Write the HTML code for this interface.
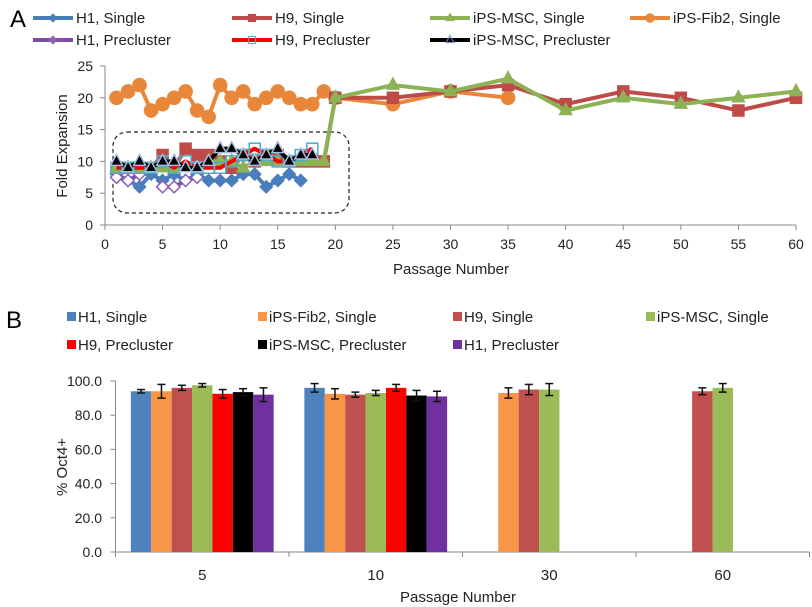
<!DOCTYPE html>
<html><head><meta charset="utf-8">
<style>
body{margin:0;background:#fff;}
svg{display:block;font-family:"Liberation Sans",Arial,sans-serif;}
</style></head>
<body>
<svg id="chart" width="812" height="607" viewBox="0 0 812 607"></svg>
<script>
// ---------- Panel A data ----------
const xA_ticks = [0,5,10,15,20,25,30,35,40,45,50,55,60];
const yA_ticks = [0,5,10,15,20,25];
const seriesNamesA = ["H1, Single","H9, Single","iPS-MSC, Single","iPS-Fib2, Single","H1, Precluster","H9, Precluster","iPS-MSC, Precluster"];
const h1SingleX = [1,2,3,4,5,6,7,8,9,10,11,12,13,14,15,16,17];
const h1SingleY = [8,7,6,8,7,8,7,8,7,7,7,8,8,6,7,8,7];
const h9SingleX = [1,2,3,4,5,6,7,8,9,10,11,12,13,14,15,16,17,18,19,20,25,30,35,40,45,50,55,60];
const h9SingleY = [9,9,9,9,11,9,12,11,11,10,9,11,10,11,11,10,10,10,10,20,20,21,22,19,21,20,18,20];
const mscSingleX = [1,2,3,4,5,6,7,8,9,10,11,12,13,14,15,16,17,18,19,20,25,30,35,40,45,50,55,60];
const mscSingleY = [9,9,9,9,9,9,9,9,10,10,10,9,10,10,10,10,10,10,10,20,22,21,23,18,20,19,20,21];
const fibX = [1,2,3,4,5,6,7,8,9,10,11,12,13,14,15,16,17,18,19,20,25,30,35];
const fibY = [20,21,22,18,19,20,21,18,17,22,20,21,19,20,21,20,19,19,21,20,19,21,20];
const h1PreX = [1,2,3,5,6,7,8];
const h1PreY = [7.5,7,8,6,6,7,7.5];
const h9PreX = [1,2,3,4,5,6,7,8,9,10,11,12,13,14,15,16,17,18];
const h9PreY = [9,9,9,9,10,9,10,9,9,9,10,11,12,11,10,10,11,12];
const mscPreX = [1,2,3,4,5,6,7,8,9,10,11,12,13,14,15,16,17,18];
const mscPreY = [10,9,10,9,10,10,9,9,10,12,12,11,10,11,12,10,11,11];

// ---------- Panel B data ----------
const categoriesB = ["5","10","30","60"];
const yB_ticks = [0,20,40,60,80,100];
const seriesNamesB = ["H1, Single","iPS-Fib2, Single","H9, Single","iPS-MSC, Single","H9, Precluster","iPS-MSC, Precluster","H1, Precluster"];
const h1SingleB  = [94,96,null,null];
const fibSingleB = [94,92.5,93,null];
const h9SingleB  = [96,92,95,94];
const mscSingleB = [97.5,93,95,96];
const h9PreB     = [92.5,96,null,null];
const mscPreB    = [93.5,91.5,null,null];
const h1PreB     = [92,91,null,null];
const h1SingleErr  = [1,2.5,null,null];
const fibSingleErr = [4,3,3,null];
const h9SingleErr  = [1.5,1.5,3,2];
const mscSingleErr = [1,1.5,3.5,2.5];
const h9PreErr     = [2.5,2,null,null];
const mscPreErr    = [2,3,null,null];
const h1PreErr     = [4,3,null,null];

const svg = document.getElementById('chart');
const NS = "http://www.w3.org/2000/svg";
function el(tag, attrs, parent, text){
  const e = document.createElementNS(NS, tag);
  for (const k in attrs) e.setAttribute(k, attrs[k]);
  if (text !== undefined) e.textContent = text;
  (parent||svg).appendChild(e);
  return e;
}

// ---------- Panel A axes ----------
const xA = v => 105 + v * (691/60);
const yA = v => 225 - v * (159/25);
const gA = el('g', {});


const pl = el('text',{x:10,y:27,'font-size':24,fill:'#000'},gA,'A');
 

el('line',{x1:105,y1:yA(0),x2:105,y2:yA(25),stroke:'#888','stroke-width':1},gA);
el('line',{x1:105,y1:yA(0),x2:xA(60),y2:yA(0),stroke:'#888','stroke-width':1},gA);
yA_ticks.forEach(t=>{
  el('line',{x1:100,y1:yA(t),x2:105,y2:yA(t),stroke:'#888'},gA);
  const lt = el('text',{x:93,y:yA(t)+5,'font-size':14,'text-anchor':'end',fill:'#222'},gA,String(t));
   
});
xA_ticks.forEach(t=>{
  el('line',{x1:xA(t),y1:yA(0),x2:xA(t),y2:yA(0)+5,stroke:'#888'},gA);
  const lt = el('text',{x:xA(t),y:249,'font-size':14,'text-anchor':'middle',fill:'#222'},gA,String(t));
   
});
const xtA = el('text',{x:451,y:274,'font-size':15,'text-anchor':'middle',fill:'#222'},gA,'Passage Number');
 
const ytA = el('text',{x:0,y:0,'font-size':15,'text-anchor':'middle',fill:'#222',transform:'translate(67,146) rotate(-90)'},gA,'Fold Expansion');
 

const box = el('rect',{x:113,y:132,width:236,height:81,rx:14,ry:14,fill:'none',stroke:'#222','stroke-width':1.2,'stroke-dasharray':'4,3'},gA);
 

function marker(g, type, x, y, fill, stroke){
  let m;
  if (type==='diamond') m = el('polygon',{points:`${x},${y-6} ${x+6},${y} ${x},${y+6} ${x-6},${y}`,fill:fill,stroke:stroke,'stroke-width':1.5},g);
  else if (type==='square') m = el('rect',{x:x-5.5,y:y-5.5,width:11,height:11,fill:fill,stroke:stroke,'stroke-width':1.5},g);
  else if (type==='triangle') m = el('polygon',{points:`${x},${y-7} ${x+6},${y+4} ${x-6},${y+4}`,fill:fill,stroke:stroke,'stroke-width':1.5},g);
  else m = el('circle',{cx:x,cy:y,r:6.8,fill:fill,stroke:stroke},g);
  return m;
}
function drawLine(xs, ys, name, color, mtype, mfill, mstroke){
  const g = el('g',{},gA);
  
  
  let segs = [], cur = [];
  for (let i=0;i<xs.length;i++){
    if (i>0 && xs[i]-xs[i-1]>1 && xs[i]<20) { segs.push(cur); cur=[]; }
    cur.push([xA(xs[i]), yA(ys[i])]);
  }
  segs.push(cur);
  segs.forEach(s=>{
    el('polyline',{points:s.map(p=>p.join(',')).join(' '),fill:'none',stroke:color,'stroke-width':4,'stroke-linejoin':'round'},g);
  });
  for (let i=0;i<xs.length;i++){
    const m = marker(g, mtype, xA(xs[i]), yA(ys[i]), mfill, mstroke);
    
  }
}
drawLine(fibX, fibY, 'series-ips-fib2-single', '#E8873A','circle','#E8873A','#E8873A');
drawLine(h1SingleX, h1SingleY, 'series-h1-single', '#4A7EBB','diamond','#4A7EBB','#4A7EBB');
drawLine(h1PreX, h1PreY, 'series-h1-precluster', '#7B4FA8','diamond','#fff','#8A63B5');
drawLine(h9SingleX, h9SingleY, 'series-h9-single', '#BE4B48','square','#BE4B48','#BE4B48');
drawLine(mscSingleX, mscSingleY, 'series-ips-msc-single', '#8DB255','triangle','#8DB255','#8DB255');
drawLine(h9PreX, h9PreY, 'series-h9-precluster', '#FF0000','square','none','#4BACC6');
drawLine(mscPreX, mscPreY, 'series-ips-msc-precluster', '#000','triangle','#000','#A8BCE0');

// Panel A legend
const legA = [
  {n:seriesNamesA[0],c:'#4A7EBB',m:'diamond',f:'#4A7EBB',s:'#4A7EBB',x:33,y:18},
  {n:seriesNamesA[1],c:'#BE4B48',m:'square',f:'#BE4B48',s:'#BE4B48',x:232,y:18},
  {n:seriesNamesA[2],c:'#8DB255',m:'triangle',f:'#8DB255',s:'#8DB255',x:430,y:18},
  {n:seriesNamesA[3],c:'#E8873A',m:'circle',f:'#E8873A',s:'#E8873A',x:630,y:18},
  {n:seriesNamesA[4],c:'#7B4FA8',m:'diamond',f:'#8A63B5',s:'#8A63B5',x:33,y:40},
  {n:seriesNamesA[5],c:'#FF0000',m:'square',f:'none',s:'#4BACC6',x:232,y:40},
  {n:seriesNamesA[6],c:'#000',m:'triangle',f:'none',s:'#6F8DC0',x:430,y:40}
];
legA.forEach(L=>{
  const g = el('g',{},gA);
  
  
  el('line',{x1:L.x,y1:L.y,x2:L.x+40,y2:L.y,stroke:L.c,'stroke-width':4},g);
  const m = marker(g,L.m,L.x+20,L.y,L.f,L.s);
  m.setAttribute('transform',`translate(${(L.x+20)*0.35},${L.y*0.35}) scale(0.65)`);
  el('text',{x:L.x+43,y:L.y+5,'font-size':15,fill:'#222'},g,L.n);
});

// ---------- Panel B ----------
const gB = el('g',{});


const pb = el('text',{x:6,y:328,'font-size':24,fill:'#000'},gB,'B');
 

const left = 115.5, catW = 173.5;
const yB = v => 552 - v * (171/100);
el('line',{x1:left,y1:yB(0),x2:left,y2:yB(100),stroke:'#888'},gB);
el('line',{x1:left,y1:yB(0),x2:left+catW*4,y2:yB(0),stroke:'#888'},gB);
yB_ticks.forEach(t=>{
  el('line',{x1:left-5,y1:yB(t),x2:left,y2:yB(t),stroke:'#888'},gB);
  const lt = el('text',{x:102,y:yB(t)+5,'font-size':14,'text-anchor':'end',fill:'#222'},gB,t.toFixed(1));
   
});
for (let i=0;i<=4;i++) el('line',{x1:left+catW*i,y1:yB(0),x2:left+catW*i,y2:yB(0)+5,stroke:'#888'},gB);
categoriesB.forEach((c,i)=>{
  const lt = el('text',{x:left+catW*(i+0.5),y:580,'font-size':15,'text-anchor':'middle',fill:'#222'},gB,c);
   
});
const xtB = el('text',{x:458,y:602,'font-size':15,'text-anchor':'middle',fill:'#222'},gB,'Passage Number');
 
const ytB = el('text',{x:0,y:0,'font-size':15,'text-anchor':'middle',fill:'#222',transform:'translate(67,467) rotate(-90)'},gB,'% Oct4+');
 

const barVals = [h1SingleB,fibSingleB,h9SingleB,mscSingleB,h9PreB,mscPreB,h1PreB];
const barErrs = [h1SingleErr,fibSingleErr,h9SingleErr,mscSingleErr,h9PreErr,mscPreErr,h1PreErr];
const barColors = ['#4F81BD','#F79646','#C0504D','#9BBB59','#FF0000','#000000','#7030A0'];
const bw = 20.4;
barVals.forEach((vals,s)=>{
  const g = el('g',{},gB);
  
  
  vals.forEach((v,i)=>{
    if (v===null) return;
    const x = left + catW*(i+0.5) - bw*3.5 + bw*s;
    const r = el('rect',{x:x,y:yB(v),width:bw,height:yB(0)-yB(v),fill:barColors[s]},g);
    
    
    const e = barErrs[s][i];
    if (e!==null){
      const cx = x+bw/2;
      const eg = el('g',{stroke:'#111','stroke-width':1.5},g);
      
      el('line',{x1:cx,y1:yB(v+e),x2:cx,y2:yB(v-e)},eg);
      el('line',{x1:cx-4,y1:yB(v+e),x2:cx+4,y2:yB(v+e)},eg);
      el('line',{x1:cx-4,y1:yB(v-e),x2:cx+4,y2:yB(v-e)},eg);
    }
  });
});
// Panel B legend
const legBpos = [[67,317],[258,317],[453,317],[646,317],[67,345],[258,345],[453,345]];
seriesNamesB.forEach((n,i)=>{
  const g = el('g',{},gB);
  
  
  const [x,y] = legBpos[i];
  el('rect',{x:x,y:y-5,width:9,height:9,fill:barColors[i]},g);
  el('text',{x:x+11,y:y+5,'font-size':15,fill:'#222'},g,n);
});
</script>
</body></html>
